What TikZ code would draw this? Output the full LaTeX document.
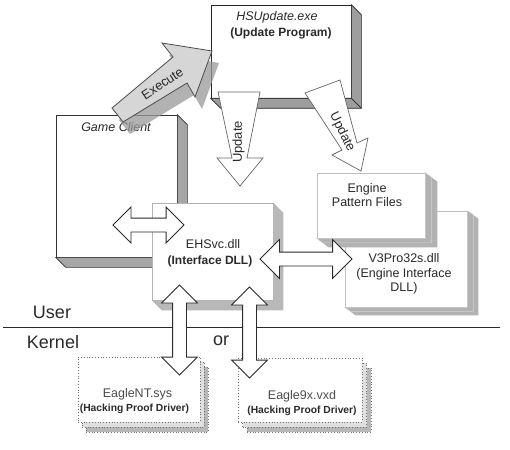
\documentclass[tikz,border=0pt]{standalone}
\usepackage{fontspec}
\setmainfont{Liberation Sans}
\usetikzlibrary{shapes.arrows,calc}
\definecolor{ink}{HTML}{2A2A2A}
\newcommand\mkextrude[4]{%
  \path[#4] (#1.north east) -- ++(#2,#3) -- ($(#1.south east)+(#2,#3)$)
    -- ($(#1.south west)+(#2,#3)$) -- (#1.south west) -- (#1.south east) -- cycle;}
\begin{document}
\begin{tikzpicture}[x=1pt,y=-1pt,
  face/.style={rectangle, draw=#1, fill=white, line width=0.7pt, inner sep=0pt},
  face/.default=black!75,
  lbl/.style={text=ink, inner sep=0pt, font=\fontsize{12.5}{14.5}\selectfont},
  ilbl/.style={text=ink, inner sep=0pt, font=\fontsize{12.5}{14}\selectfont\itshape},
  blbl/.style={text=ink, inner sep=0pt, font=\fontsize{12}{14}\selectfont\bfseries},
  sblbl/.style={text=ink, inner sep=0pt, font=\fontsize{10.3}{12}\selectfont\bfseries},
  alab/.style={text=ink, inner sep=0pt, font=\fontsize{13}{14}\selectfont},
  big/.style={text=ink, inner sep=0pt, font=\fontsize{18}{20}\selectfont},
  darrow/.style={double arrow, draw=ink, fill=white, line width=0.8pt, inner sep=6.5pt,
    double arrow head extend=11pt, double arrow tip angle=90},
  hollow/.style={draw=black!60, fill=white, line width=0.7pt, line join=miter},
  dotbox/.style={rectangle, draw=black!55, dotted, line width=0.8pt, inner sep=0pt, fill=white},
]
\useasboundingbox (0,0) rectangle (510,449);
\fill[white] (0,0) rectangle (510,449);

% ---------------- HSUpdate box
\node[face=black!85, minimum width=140pt, minimum height=93pt] (hs) at (281,51.5) {};
\mkextrude{hs}{10}{10}{fill=black!38, draw=black!85, line width=0.7pt}
\draw[black!85, line width=0.7pt] (hs.south east) -- ++(10,10);
\node[ilbl] (hsT1) at (277,17) {HSUpdate.exe};
\node[blbl] (hsT2) at (281,33) {(Update Program)};

% ---------------- Game Client box
\node[face=black!80, minimum width=121pt, minimum height=142pt] (gc) at (116.5,186) {};
\mkextrude{gc}{10}{10}{fill=black!35, draw=black!80, line width=0.7pt}
\draw[black!80, line width=0.7pt] (gc.south east) -- ++(10,10);
\node[ilbl] (gcT) at (116,127.5) {Game Client};

% ---------------- Execute arrow
\begin{scope}[shift={(7,12)}]
  \fill[black!40, opacity=0.75] (112,108) -- (173,57) -- (162,43) -- (212,51)
     -- (195,97) -- (187,83) -- (123,122) -- cycle;
\end{scope}
\draw[fill=black!16, draw=black!70, line width=0.8pt, line join=miter]
  (112,108) -- (173,57) -- (162,43) -- (212,51) -- (195,97) -- (187,83) -- (123,122) -- cycle;
\node[alab, rotate=34] (exT) at (162.5,83.5) {Execute};

% ---------------- EHSvc box
\node[face=black!30, minimum width=121pt, minimum height=97pt] (eh) at (212.5,251.5) {};
\mkextrude{eh}{10}{10}{fill=black!28}
\node[lbl] (ehT1) at (213,244) {EHSvc.dll};
\node[blbl] (ehT2) at (210,261) {(Interface DLL)};

% ---------------- V3Pro32s box
\node[face=black!25, minimum width=122pt, minimum height=96pt] (v3) at (406,259) {};
\mkextrude{v3}{11}{8}{fill=black!30}
\mkextrude{v3}{6}{4}{draw=black!18, line width=0.5pt}
\node[lbl, align=center] (v3T) at (404,274) {V3Pro32s.dll\\(Engine Interface\\DLL)};

% ---------------- Engine Pattern Files box
\node[face=black!25, minimum width=108pt, minimum height=65pt] (ep) at (371,205.5) {};
\mkextrude{ep}{12}{9}{fill=black!30}
\mkextrude{ep}{6}{4.5}{draw=black!18, line width=0.5pt}
\node[lbl, align=center] (epT) at (367,195) {Engine\\Pattern Files};

% ---------------- Update arrows
\draw[hollow] (218,92) -- (260,92) -- (247,158) -- (263,158) -- (240,186)
  -- (217,158) -- (232,158) -- cycle;
\node[alab, rotate=90] (u1T) at (238.5,142) {Update};
\draw[hollow] (305,93) -- (340,80) -- (357,143) -- (368,138) -- (361,171)
  -- (332,155) -- (342,150) -- cycle;
\node[alab, rotate=-64] (u2T) at (342,132) {Update};

% ---------------- User / Kernel line
\coordinate (lineL) at (3,327);
\coordinate (lineR) at (500,327);
\draw[ink, line width=1pt] (lineL) -- (lineR);
\node[big] (userT) at (52,312) {User};
\node[big] (kernT) at (53,342) {Kernel};
\node[big] (orT) at (221,341) {or};

% ---------------- Eagle boxes
\node[dotbox, fill=black!28, minimum width=122pt, minimum height=65pt] (enS) at (147,399.5) {};
\node[dotbox, fill=black!12, minimum width=122pt, minimum height=65pt] (enM) at (143,394.5) {};
\node[dotbox, minimum width=122pt, minimum height=65pt] (en) at (139,389.5) {};
\node[lbl, text=black!70] (enT1) at (137.5,394) {EagleNT.sys};
\node[sblbl] (enT2) at (134.5,409) {(Hacking Proof Driver)};

\node[dotbox, fill=black!28, minimum width=124pt, minimum height=64pt] (e9S) at (309,400) {};
\node[dotbox, fill=black!12, minimum width=124pt, minimum height=64pt] (e9M) at (304.5,395) {};
\node[dotbox, minimum width=124pt, minimum height=64pt] (e9) at (300,390) {};
\node[lbl, text=black!70] (e9T1) at (302,396) {Eagle9x.vxd};
\node[sblbl] (e9T2) at (302,411) {(Hacking Proof Driver)};

% ---------------- Double arrows
\node[darrow, minimum height=71pt] (aA) at (148.5,225) {};
\node[darrow, minimum height=92pt, double arrow head extend=12.5pt] (aB) at (306,259) {};
\node[darrow, minimum height=90pt, rotate=90] (aC) at (179.5,330) {};
\node[darrow, minimum height=91pt, rotate=90] (aD) at (249.5,332.5) {};
\end{tikzpicture}
\end{document}
